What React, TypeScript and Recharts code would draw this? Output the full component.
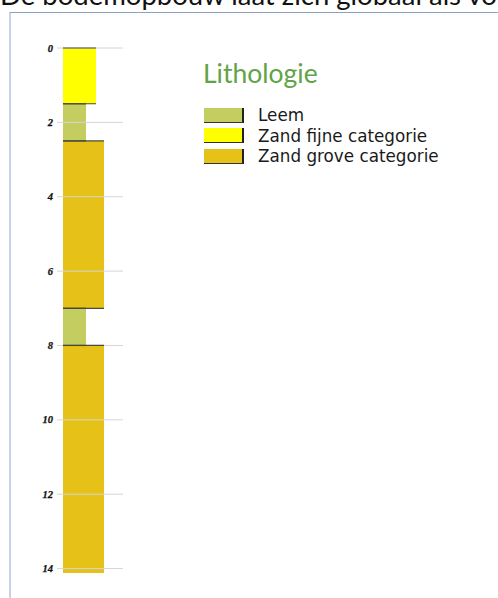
import React from 'react';
import { ComposedChart, XAxis, YAxis, ReferenceArea, ReferenceLine } from 'recharts';

// Lithology classes
const lithologyNames = ['Leem', 'Zand fijne categorie', 'Zand grove categorie'];
const lithologyColors = ['#c3cd60', '#ffff00', '#e6c117'];
const lithologyWidths = [23, 33, 41];

// Boring layers (depth in m)
const layerTops = [0, 1.5, 2.5, 7, 8];
const layerBottoms = [1.5, 2.5, 7, 8, 14.12];
const layerLithology = [1, 0, 2, 0, 2];

const depthTicks = [0, 2, 4, 6, 8, 10, 12, 14];

const legendTitle = 'Lithologie';
const headerText = 'De bodemopbouw laat zich globaal als vo';

const X_MIN = -6;
const X_MAX = 60;

const layers = layerTops.map((top, i) => ({
  top,
  bottom: layerBottoms[i],
  width: lithologyWidths[layerLithology[i]],
  color: lithologyColors[layerLithology[i]],
}));

const DepthTick = (props: any) => {
  const { x, y, payload } = props;
  return (
    <text
      x={x}
      y={y}
      dy={3.5}
      textAnchor="end"
      fontFamily="'Liberation Serif', serif"
      fontWeight="bold"
      fontStyle="italic"
      fontSize={10.5}
      fill="#111"
      stroke="#111"
      strokeWidth={0.25}
    >
      {payload.value}
    </text>
  );
};

export default function App() {
  return (
    <div
      style={{
        position: 'absolute',
        left: 0,
        top: 0,
        width: 498,
        height: 598,
        overflow: 'hidden',
        background: '#fff',
      }}
    >
      <div
        style={{
          position: 'absolute',
          left: 0,
          top: -19,
          whiteSpace: 'nowrap',
          fontFamily: 'Lato, sans-serif',
          fontSize: 27.5,
          lineHeight: '27px',
          color: '#111',
        }}
      >
        {headerText}
      </div>
      <div
        style={{
          position: 'absolute',
          left: 9,
          top: 12,
          width: 600,
          height: 700,
          borderTop: '1px solid #8aa1c3',
          borderLeft: '2px solid #c5d3e4',
          boxSizing: 'border-box',
        }}
      />
      <div style={{ position: 'absolute', left: 0, top: 0 }}>
        <ComposedChart
          width={498}
          height={598}
          data={layers}
          margin={{ top: 48, right: 375, bottom: 22, left: 0 }}
        >
          <XAxis type="number" dataKey="width" domain={[X_MIN, X_MAX]} hide />
          <YAxis
            type="number"
            dataKey="top"
            domain={[0, 14.2]}
            ticks={depthTicks}
            reversed
            width={57}
            tickLine={false}
            axisLine={false}
            tickSize={0}
            tickMargin={4}
            tick={<DepthTick />}
            interval={0}
          />
          {depthTicks.map((t) => (
            <ReferenceLine
              key={'g' + t}
              segment={[
                { x: X_MIN, y: t },
                { x: X_MAX, y: t },
              ]}
              stroke="#d6d6d6"
              strokeWidth={1}
            />
          ))}
          {layers.map((l, i) => (
            <ReferenceArea
              key={'a' + i}
              x1={0}
              x2={l.width}
              y1={l.top}
              y2={l.bottom}
              fill={l.color}
              fillOpacity={1}
              stroke="none"
            />
          ))}
          {layers.map((l, i) => (
            <ReferenceLine
              key={'t' + i}
              segment={[
                { x: 0, y: l.top },
                { x: l.width, y: l.top },
              ]}
              stroke="#4a4a3a"
              strokeWidth={1.2}
            />
          ))}
          {layers.slice(0, -1).map((l, i) => (
            <ReferenceLine
              key={'b' + i}
              segment={[
                { x: 0, y: l.bottom },
                { x: l.width, y: l.bottom },
              ]}
              stroke="#4a4a3a"
              strokeWidth={1.2}
            />
          ))}
        </ComposedChart>
      </div>
      <div style={{ position: 'absolute', left: 203, top: 58 }}>
        <div
          style={{
            fontFamily: 'Lato, sans-serif',
            fontSize: 26.5,
            lineHeight: '30px',
            color: '#62a347',
            marginBottom: 17,
          }}
        >
          {legendTitle}
        </div>
        {lithologyNames.map((name, i) => (
          <div key={name} style={{ display: 'flex', alignItems: 'center', height: 20.5 }}>
            <div
              style={{
                width: 38,
                height: 14,
                background: lithologyColors[i],
                borderRight: '2px solid #222',
                borderBottom: '1px solid #333',
                marginLeft: 1,
              }}
            />
            <div
              style={{
                marginLeft: 14,
                fontFamily: "'DejaVu Sans', sans-serif",
                fontSize: 16.8,
                lineHeight: '20px',
                color: '#1a1a1a',
                whiteSpace: 'nowrap',
              }}
            >
              {name}
            </div>
          </div>
        ))}
      </div>
    </div>
  );
}
